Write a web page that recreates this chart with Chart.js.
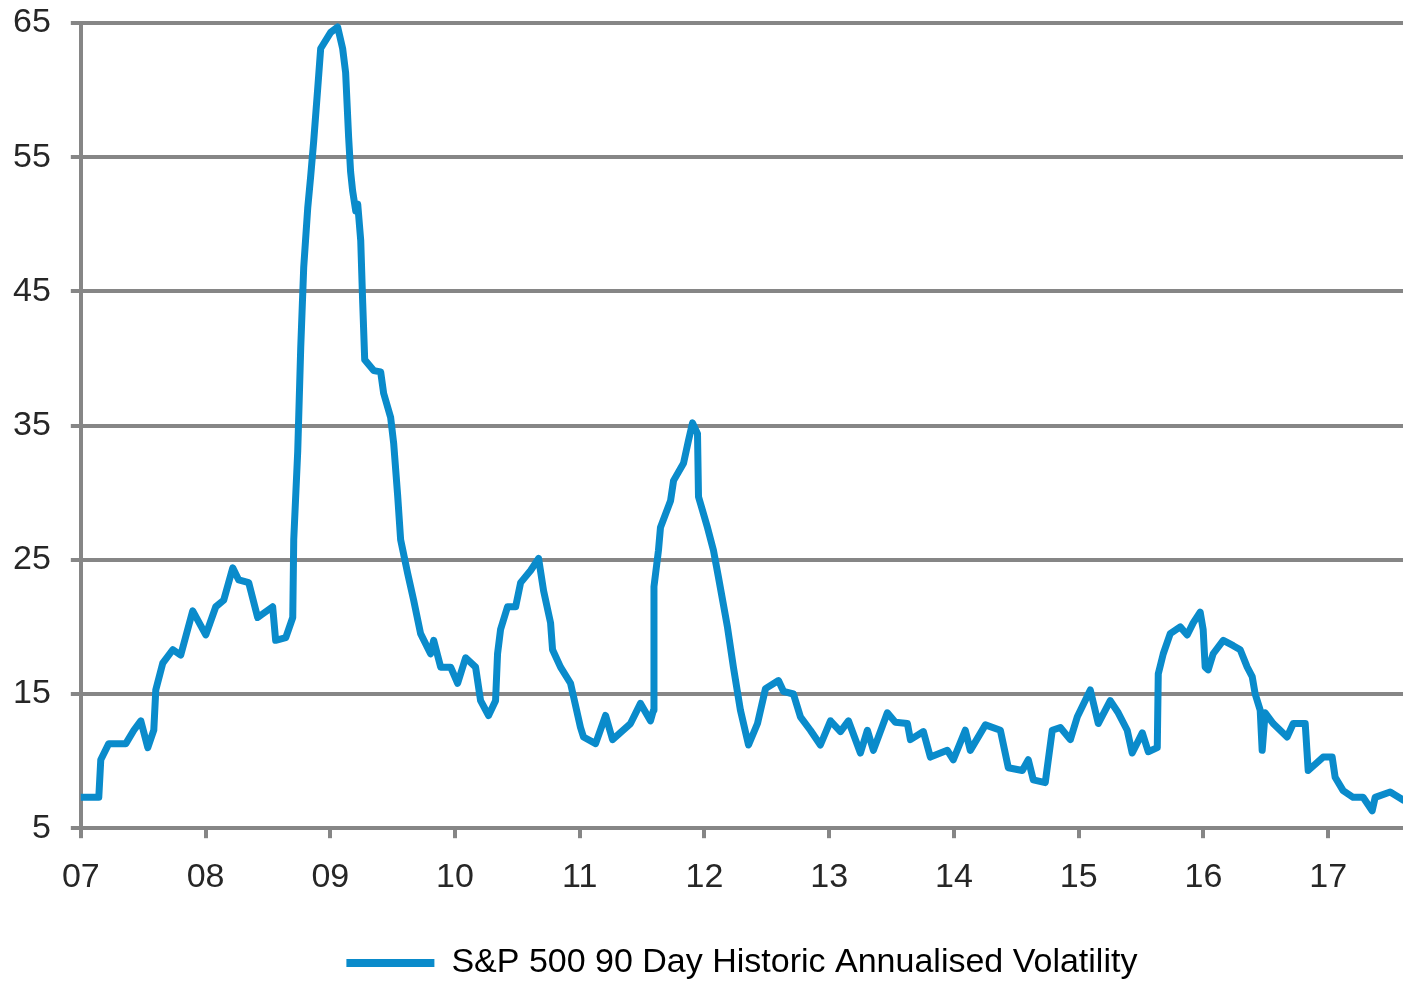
<!DOCTYPE html>
<html>
<head>
<meta charset="utf-8">
<script src="https://cdn.jsdelivr.net/npm/chart.js@4/dist/chart.umd.min.js"></script>
<style>
  html, body { margin: 0; padding: 0; background: #fff; }
</style>
</head>
<body>
<canvas id="vol-chart" width="1403" height="987"></canvas>
<script>
// x position in years (7 = start of 2007)
const yearPos = [
  7.000, 7.144, 7.160, 7.224, 7.361, 7.425, 7.481, 7.537, 7.585, 7.601,
  7.657, 7.737, 7.801, 7.897, 8.002, 8.082, 8.146, 8.218, 8.266, 8.346,
  8.418, 8.538, 8.562, 8.643, 8.699, 8.707, 8.739, 8.763, 8.787, 8.819,
  8.843, 8.867, 8.899, 8.923, 9.003, 9.059, 9.099, 9.123, 9.147, 9.163,
  9.179, 9.204, 9.220, 9.244, 9.260, 9.276, 9.348, 9.404, 9.428, 9.484,
  9.508, 9.540, 9.564, 9.620, 9.668, 9.724, 9.804, 9.829, 9.885, 9.965,
  10.021, 10.085, 10.165, 10.205, 10.269, 10.325, 10.341, 10.365, 10.421, 10.486,
  10.526, 10.606, 10.670, 10.710, 10.766, 10.782, 10.846, 10.926, 11.006, 11.030,
  11.127, 11.207, 11.263, 11.407, 11.487, 11.567, 11.591, 11.595, 11.631, 11.647,
  11.728, 11.752, 11.832, 11.872, 11.904, 11.944, 11.952, 12.024, 12.072, 12.112,
  12.184, 12.232, 12.288, 12.353, 12.425, 12.489, 12.593, 12.633, 12.713, 12.769,
  12.849, 12.929, 13.010, 13.090, 13.154, 13.250, 13.306, 13.354, 13.466, 13.530,
  13.627, 13.651, 13.755, 13.811, 13.947, 13.995, 14.091, 14.131, 14.252, 14.372,
  14.436, 14.548, 14.596, 14.636, 14.732, 14.788, 14.853, 14.933, 14.989, 15.093,
  15.157, 15.253, 15.317, 15.389, 15.429, 15.510, 15.558, 15.630, 15.638, 15.678,
  15.734, 15.814, 15.870, 15.918, 15.974, 15.998, 16.014, 16.038, 16.078, 16.159,
  16.239, 16.295, 16.351, 16.391, 16.415, 16.455, 16.471, 16.495, 16.559, 16.671,
  16.720, 16.816, 16.840, 16.960, 17.032, 17.056, 17.120, 17.200, 17.280, 17.353,
  17.377, 17.497, 17.601
];

const volatility = [
  7.3, 7.3, 10.1, 11.3, 11.3, 12.3, 13.0, 11.0, 12.3, 15.3,
  17.3, 18.3, 17.9, 21.2, 19.4, 21.5, 22.0, 24.4, 23.5, 23.3,
  20.7, 21.5, 19.0, 19.2, 20.7, 26.5, 33.1, 40.8, 46.8, 51.2,
  53.6, 56.2, 60.1, 63.1, 64.3, 64.7, 63.1, 61.3, 56.5, 53.9,
  52.5, 51.0, 51.5, 48.8, 44.1, 39.9, 39.1, 39.0, 37.4, 35.6,
  33.7, 29.8, 26.5, 24.0, 22.0, 19.5, 18.0, 19.0, 17.0, 17.0,
  15.8, 17.7, 17.0, 14.5, 13.4, 14.5, 18.0, 19.8, 21.5, 21.5,
  23.3, 24.2, 25.1, 22.7, 20.3, 18.3, 17.0, 15.8, 12.5, 11.8,
  11.3, 13.4, 11.6, 12.8, 14.3, 13.0, 13.8, 23.0, 25.7, 27.4,
  29.4, 30.9, 32.2, 33.9, 35.2, 34.4, 29.7, 27.4, 25.7, 23.7,
  20.0, 17.0, 13.8, 11.2, 12.8, 15.4, 16.0, 15.2, 15.0, 13.3,
  12.3, 11.2, 13.0, 12.2, 13.0, 10.6, 12.3, 10.8, 13.6, 12.9,
  12.8, 11.6, 12.2, 10.3, 10.8, 10.1, 12.3, 10.8, 12.7, 12.3,
  9.5, 9.3, 10.1, 8.6, 8.4, 12.3, 12.5, 11.6, 13.3, 15.3,
  12.8, 14.5, 13.6, 12.3, 10.6, 12.1, 10.7, 11.0, 16.5, 18.0,
  19.5, 20.0, 19.4, 20.3, 21.1, 19.8, 17.0, 16.8, 18.0, 19.0,
  18.6, 18.3, 17.0, 16.3, 15.0, 13.8, 10.8, 13.6, 12.8, 11.8,
  12.8, 12.8, 9.3, 10.3, 10.3, 8.8, 7.8, 7.3, 7.3, 6.3,
  7.3, 7.7, 7.1
];

const yearLabels = ['07', '08', '09', '10', '11', '12', '13', '14', '15', '16', '17'];
const yTicks = [5, 15, 25, 35, 45, 55, 65];
const seriesName = 'S&P 500 90 Day Historic Annualised Volatility';

const LINE = '#0a8bcb';
const GRID = '#868686';
const TEXT = '#262626';
const FONT = "'Liberation Sans', Arial, sans-serif";

const points = yearPos.map((x, i) => ({ x: x, y: volatility[i] }));

new Chart(document.getElementById('vol-chart').getContext('2d'), {
  type: 'line',
  data: {
    datasets: [{
      label: seriesName,
      data: points,
      borderColor: LINE,
      backgroundColor: LINE,
      borderWidth: 7,
      pointRadius: 0,
      tension: 0,
      borderJoinStyle: 'round',
      borderCapStyle: 'round'
    }]
  },
  options: {
    responsive: false,
    animation: false,
    layout: { padding: { left: -7, top: 23, right: 0, bottom: -3 } },
    scales: {
      x: {
        type: 'linear',
        min: 7,
        max: 17.6,
        ticks: {
          stepSize: 1,
          includeBounds: false,
          autoSkip: false,
          maxRotation: 0,
          padding: 19,
          color: TEXT,
          font: { family: FONT, size: 34 },
          callback: v => yearLabels[Math.round(v) - 7]
        },
        grid: { drawOnChartArea: false, drawTicks: true, tickLength: 10, color: GRID, lineWidth: 4 },
        border: { display: true, color: GRID, width: 4 }
      },
      y: {
        min: yTicks[0],
        max: yTicks[yTicks.length - 1],
        afterFit: scale => { scale.paddingTop = 0; },
        ticks: {
          stepSize: 10,
          padding: 20,
          color: TEXT,
          font: { family: FONT, size: 34 }
        },
        grid: { color: GRID, lineWidth: 4, tickLength: 10 },
        border: { display: true, color: GRID, width: 4 }
      }
    },
    plugins: {
      tooltip: { enabled: false },
      legend: {
        position: 'bottom',
        fullSize: false,
        labels: {
          boxWidth: 88,
          boxHeight: 8,
          padding: 29,
          color: TEXT,
          font: { family: FONT, size: 34 },
          generateLabels: () => [{
            text: seriesName,
            fillStyle: LINE,
            strokeStyle: LINE,
            lineWidth: 0,
            hidden: false,
            datasetIndex: 0
          }]
        }
      }
    }
  }
});
</script>
</body>
</html>
